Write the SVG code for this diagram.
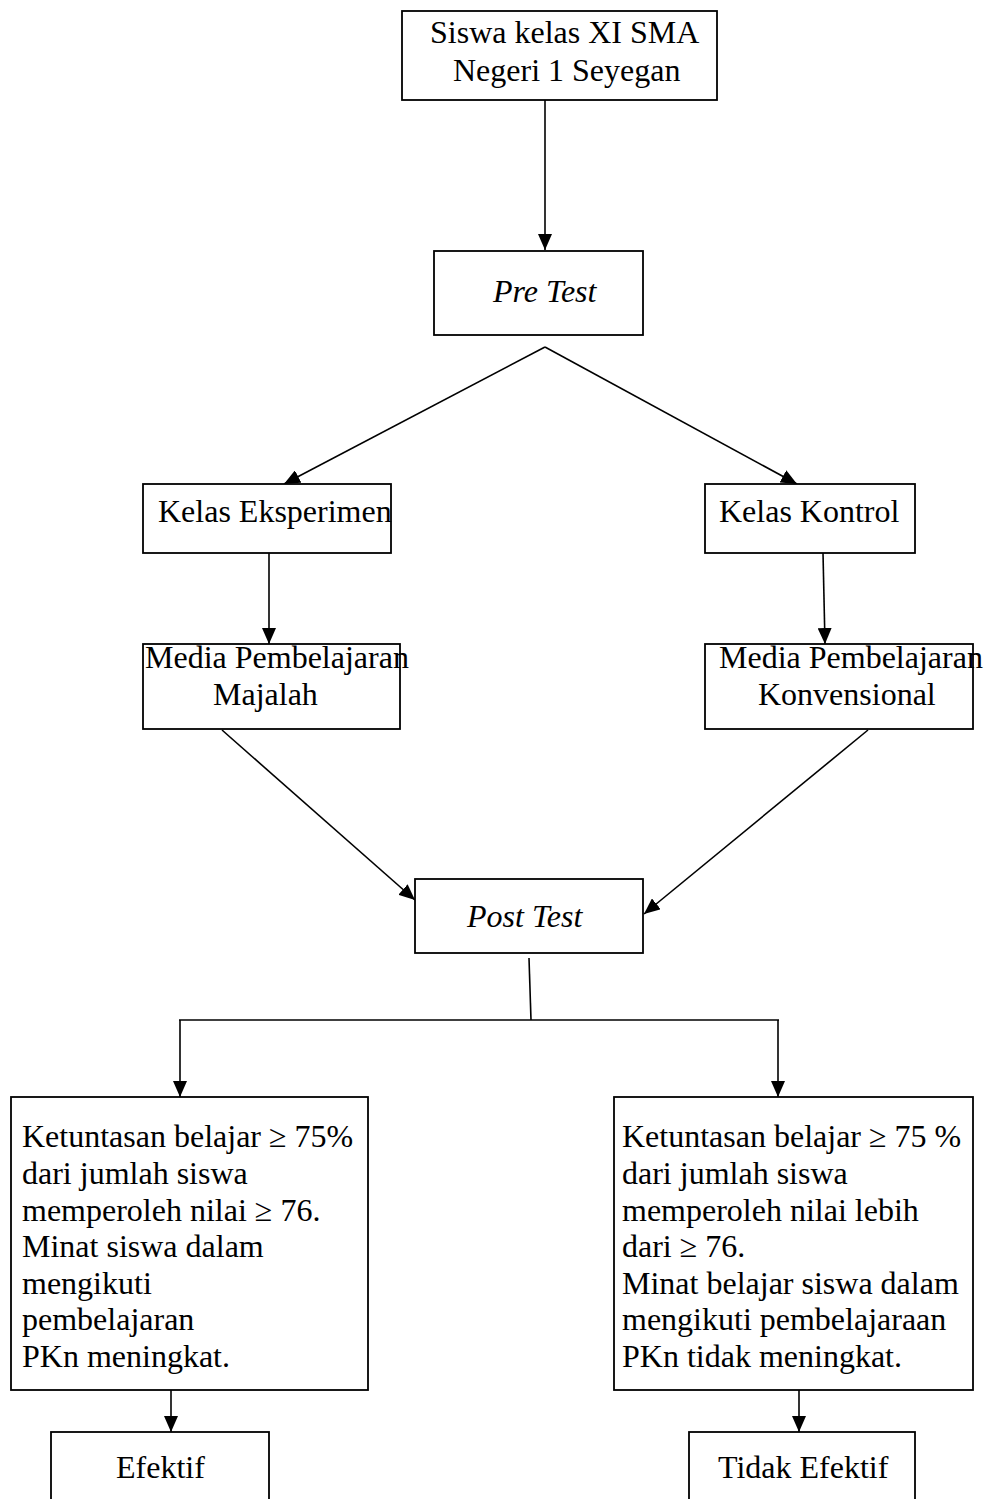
<svg xmlns="http://www.w3.org/2000/svg" width="986" height="1499" viewBox="0 0 986 1499">
<style>
.box{fill:#fff;stroke:#000;stroke-width:1.8}
.t{font-family:"Liberation Serif","Times New Roman",serif;font-size:32px;fill:#000}
.i{font-style:italic}
.ln{stroke:#000;stroke-width:1.6;fill:none}
.ar{marker-end:url(#ah)}
</style>
<defs>
<marker id="ah" markerUnits="userSpaceOnUse" markerWidth="16" markerHeight="14" viewBox="0 0 16 14" refX="16" refY="7" orient="auto">
<path d="M0,0 L16,7 L0,14 z" fill="#000"/>
</marker>
</defs>
<rect width="986" height="1499" fill="#fff"/>
<g id="connectors">
<line class="ln ar" x1="545" y1="100" x2="545" y2="250"/>
<line class="ln ar" x1="545" y1="347" x2="284" y2="484"/>
<line class="ln ar" x1="545" y1="347" x2="797" y2="484"/>
<line class="ln ar" x1="269" y1="553" x2="269" y2="644"/>
<line class="ln ar" x1="823" y1="553" x2="825" y2="644"/>
<line class="ln ar" x1="222" y1="730" x2="415" y2="900"/>
<line class="ln ar" x1="868" y1="730" x2="644" y2="914"/>
<line class="ln" x1="529" y1="958" x2="531" y2="1020"/>
<line class="ln" x1="179" y1="1020" x2="779" y2="1020"/>
<line class="ln ar" x1="180" y1="1020" x2="180" y2="1097"/>
<line class="ln ar" x1="778" y1="1020" x2="778" y2="1097"/>
<line class="ln ar" x1="171" y1="1390" x2="171" y2="1432"/>
<line class="ln ar" x1="799" y1="1390" x2="799" y2="1432"/>
</g>
<g id="n1"><rect class="box" x="402" y="11" width="315" height="89"/>
<text class="t" x="430" y="43">Siswa kelas XI SMA</text>
<text class="t" x="453" y="81">Negeri 1 Seyegan</text></g>
<g id="n2"><rect class="box" x="434" y="251" width="209" height="84"/>
<text class="t i" x="493" y="302">Pre Test</text></g>
<g id="n3"><rect class="box" x="143" y="484" width="248" height="69"/>
<text class="t" x="158" y="522">Kelas Eksperimen</text></g>
<g id="n4"><rect class="box" x="705" y="484" width="210" height="69"/>
<text class="t" x="719" y="522">Kelas Kontrol</text></g>
<g id="n5"><rect class="box" x="143" y="644" width="257" height="85"/>
<text class="t" x="145" y="668">Media Pembelajaran</text>
<text class="t" x="213" y="705">Majalah</text></g>
<g id="n6"><rect class="box" x="705" y="644" width="268" height="85"/>
<text class="t" x="719" y="668">Media Pembelajaran</text>
<text class="t" x="758" y="705">Konvensional</text></g>
<g id="n7"><rect class="box" x="415" y="879" width="228" height="74"/>
<text class="t i" x="467" y="927">Post Test</text></g>
<g id="n8"><rect class="box" x="11" y="1097" width="357" height="293"/>
<text class="t" x="22" y="1147">Ketuntasan belajar ≥ 75%</text>
<text class="t" x="22" y="1184">dari jumlah siswa</text>
<text class="t" x="22" y="1221">memperoleh nilai ≥ 76.</text>
<text class="t" x="22" y="1257">Minat siswa dalam</text>
<text class="t" x="22" y="1294">mengikuti</text>
<text class="t" x="22" y="1330">pembelajaran</text>
<text class="t" x="22" y="1367">PKn meningkat.</text></g>
<g id="n9"><rect class="box" x="614" y="1097" width="359" height="293"/>
<text class="t" x="622" y="1147">Ketuntasan belajar ≥ 75 %</text>
<text class="t" x="622" y="1184">dari jumlah siswa</text>
<text class="t" x="622" y="1221">memperoleh nilai lebih</text>
<text class="t" x="622" y="1257">dari ≥ 76.</text>
<text class="t" x="622" y="1294">Minat belajar siswa dalam</text>
<text class="t" x="622" y="1330">mengikuti pembelajaraan</text>
<text class="t" x="622" y="1367">PKn tidak meningkat.</text></g>
<g id="n10"><rect class="box" x="51" y="1432" width="218" height="80"/>
<text class="t" x="116" y="1478">Efektif</text></g>
<g id="n11"><rect class="box" x="689" y="1432" width="226" height="80"/>
<text class="t" x="718" y="1478">Tidak Efektif</text></g>
</svg>
